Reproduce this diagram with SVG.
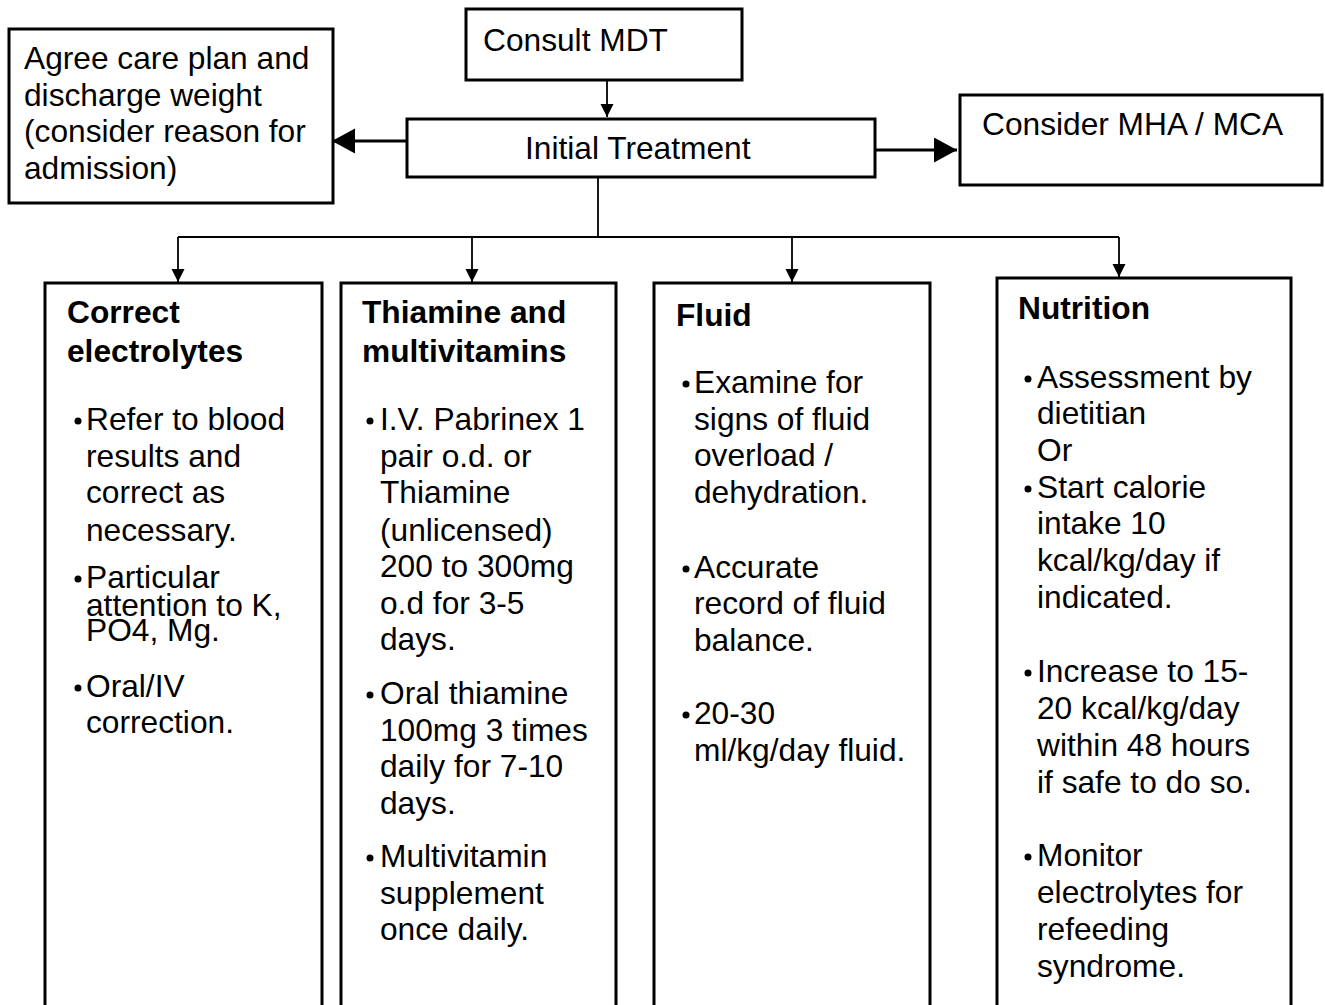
<svg xmlns="http://www.w3.org/2000/svg" width="1325" height="1005" viewBox="0 0 1325 1005">
<style>
.box{fill:#fff;stroke:#000;stroke-width:3}
.t{font-family:"Liberation Sans",Arial,sans-serif;font-size:31.7px;fill:#000}
.h{font-family:"Liberation Sans",Arial,sans-serif;font-size:31.7px;font-weight:bold;fill:#000}
.thin{stroke:#000;stroke-width:1.8;fill:none}
.thick{stroke:#000;stroke-width:3;fill:none}
.dot{fill:#000}
</style>
<defs>
<marker id="sm" markerUnits="userSpaceOnUse" markerWidth="14" markerHeight="14" refX="13" refY="6.5" orient="auto"><path d="M0,0 L13,6.5 L0,13 z" fill="#000"/></marker>
<marker id="lg" markerUnits="userSpaceOnUse" markerWidth="24" markerHeight="26" refX="23" refY="12.5" orient="auto"><path d="M0,0 L23,12.5 L0,25 z" fill="#000"/></marker>
</defs>
<g id="connectors">
<line class="thin" x1="607" y1="80" x2="607" y2="117" marker-end="url(#sm)"/>
<line class="thick" x1="406" y1="141" x2="332" y2="141" marker-end="url(#lg)"/>
<line class="thick" x1="876" y1="150" x2="957" y2="150" marker-end="url(#lg)"/>
<line class="thin" x1="598" y1="177" x2="598" y2="237"/>
<line class="thin" x1="178" y1="237" x2="1119" y2="237"/>
<line class="thin" x1="178" y1="237" x2="178" y2="282" marker-end="url(#sm)"/>
<line class="thin" x1="472" y1="237" x2="472" y2="282" marker-end="url(#sm)"/>
<line class="thin" x1="792" y1="237" x2="792" y2="282" marker-end="url(#sm)"/>
<line class="thin" x1="1119" y1="237" x2="1119" y2="277" marker-end="url(#sm)"/>
</g>
<g id="consult">
<rect class="box" x="466" y="9" width="276" height="71"/>
<text class="t" x="483" y="51">Consult MDT</text>
</g>
<g id="initial">
<rect class="box" x="407" y="119" width="468" height="58"/>
<text class="t" x="525" y="159">Initial Treatment</text>
</g>
<g id="agree">
<rect class="box" x="9" y="29" width="324" height="174"/>
<text class="t" x="24" y="69">Agree care plan and</text>
<text class="t" x="24" y="106">discharge weight</text>
<text class="t" x="24" y="142">(consider reason for</text>
<text class="t" x="24" y="179">admission)</text>
</g>
<g id="mha">
<rect class="box" x="960" y="95" width="362" height="90"/>
<text class="t" x="982" y="135">Consider MHA / MCA</text>
</g>
<g id="electrolytes">
<rect class="box" x="45" y="283" width="277" height="740"/>
<text class="h" x="67" y="323">Correct</text>
<text class="h" x="67" y="362">electrolytes</text>
<circle class="dot" cx="78" cy="421" r="3.5"/>
<text class="t" x="86" y="430">Refer to blood</text>
<text class="t" x="86" y="467">results and</text>
<text class="t" x="86" y="503">correct as</text>
<text class="t" x="86" y="541">necessary.</text>
<circle class="dot" cx="78" cy="579" r="3.5"/>
<text class="t" x="86" y="588">Particular</text>
<text class="t" x="86" y="616">attention to K,</text>
<text class="t" x="86" y="641">PO4, Mg.</text>
<circle class="dot" cx="78" cy="688" r="3.5"/>
<text class="t" x="86" y="697">Oral/IV</text>
<text class="t" x="86" y="733">correction.</text>
</g>
<g id="thiamine">
<rect class="box" x="341" y="283" width="275" height="740"/>
<text class="h" x="362" y="323">Thiamine and</text>
<text class="h" x="362" y="362">multivitamins</text>
<circle class="dot" cx="370" cy="421" r="3.5"/>
<text class="t" x="380" y="430">I.V. Pabrinex 1</text>
<text class="t" x="380" y="467">pair o.d. or</text>
<text class="t" x="380" y="503">Thiamine</text>
<text class="t" x="380" y="541">(unlicensed)</text>
<text class="t" x="380" y="577">200 to 300mg</text>
<text class="t" x="380" y="614">o.d for 3-5</text>
<text class="t" x="380" y="650">days.</text>
<circle class="dot" cx="370" cy="695" r="3.5"/>
<text class="t" x="380" y="704">Oral thiamine</text>
<text class="t" x="380" y="741">100mg 3 times</text>
<text class="t" x="380" y="777">daily for 7-10</text>
<text class="t" x="380" y="814">days.</text>
<circle class="dot" cx="370" cy="858" r="3.5"/>
<text class="t" x="380" y="867">Multivitamin</text>
<text class="t" x="380" y="904">supplement</text>
<text class="t" x="380" y="940">once daily.</text>
</g>
<g id="fluid">
<rect class="box" x="654" y="283" width="276" height="740"/>
<text class="h" x="676" y="326">Fluid</text>
<circle class="dot" cx="686" cy="384" r="3.5"/>
<text class="t" x="694" y="393">Examine for</text>
<text class="t" x="694" y="430">signs of fluid</text>
<text class="t" x="694" y="466">overload /</text>
<text class="t" x="694" y="503">dehydration.</text>
<circle class="dot" cx="686" cy="569" r="3.5"/>
<text class="t" x="694" y="578">Accurate</text>
<text class="t" x="694" y="614">record of fluid</text>
<text class="t" x="694" y="651">balance.</text>
<circle class="dot" cx="686" cy="715" r="3.5"/>
<text class="t" x="694" y="724">20-30</text>
<text class="t" x="694" y="761">ml/kg/day fluid.</text>
</g>
<g id="nutrition">
<rect class="box" x="997" y="278" width="294" height="745"/>
<text class="h" x="1018" y="319">Nutrition</text>
<circle class="dot" cx="1028" cy="379" r="3.5"/>
<text class="t" x="1037" y="388">Assessment by</text>
<text class="t" x="1037" y="424">dietitian</text>
<text class="t" x="1037" y="461">Or</text>
<circle class="dot" cx="1028" cy="489" r="3.5"/>
<text class="t" x="1037" y="498">Start calorie</text>
<text class="t" x="1037" y="534">intake 10</text>
<text class="t" x="1037" y="571">kcal/kg/day if</text>
<text class="t" x="1037" y="608">indicated.</text>
<circle class="dot" cx="1028" cy="673" r="3.5"/>
<text class="t" x="1037" y="682">Increase to 15-</text>
<text class="t" x="1037" y="719">20 kcal/kg/day</text>
<text class="t" x="1037" y="756">within 48 hours</text>
<text class="t" x="1037" y="793">if safe to do so.</text>
<circle class="dot" cx="1028" cy="857" r="3.5"/>
<text class="t" x="1037" y="866">Monitor</text>
<text class="t" x="1037" y="903">electrolytes for</text>
<text class="t" x="1037" y="940">refeeding</text>
<text class="t" x="1037" y="977">syndrome.</text>
</g>
</svg>
